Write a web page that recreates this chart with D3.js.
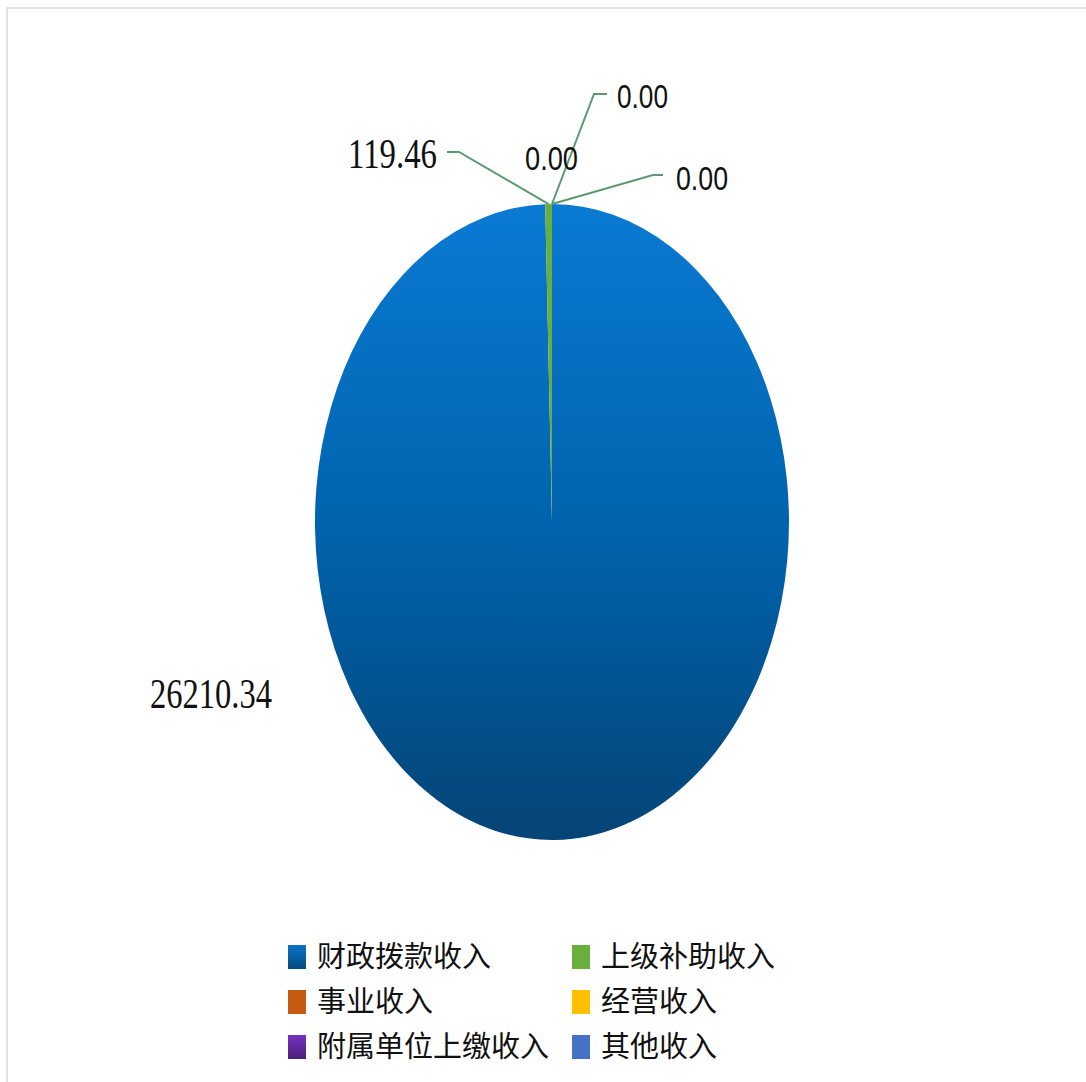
<!DOCTYPE html>
<html><head><meta charset="utf-8">
<script src="https://cdn.jsdelivr.net/npm/d3@7"></script>
<style>html,body{margin:0;padding:0;background:#fff;overflow:hidden}</style>
</head><body>
<svg id="chart" width="1086" height="1082"></svg>
<script>
const categories = ["财政拨款收入","上级补助收入","事业收入","经营收入","附属单位上缴收入","其他收入"];
const values = [26210.34, 119.46, 0, 0, 0, 0];
const labelTexts = ["26210.34","119.46","0.00","0.00","0.00",null];
const colors = ["url(#gBlue)","#6aae3c","#c55a11","#ffc000","url(#gPurple)","#4472c4"];

// layout (styling / placement only)
const W = 1086, H = 1082;
const cx = 552, cy = 522, rx = 237, ry = 318;
// label boxes: [left, top, width, height, fontFamily, leaderElbow?, leaderEnd?]
const labelLayout = [
  {x:150, y:680, w:122, h:28, font:"Liberation Serif", leader:null},
  {x:348, y:140, w:89,  h:28, font:"Liberation Serif", leader:{start:[447,152], elbow:[459,152]}},
  {x:525, y:146, w:53,  h:24, font:"Liberation Sans", leader:null},
  {x:617, y:84,  w:51,  h:24, font:"Liberation Sans", leader:{start:[607,94], elbow:[594,94]}},
  {x:676, y:166, w:52,  h:24, font:"Liberation Sans", leader:{start:[663,175], elbow:[653,175]}}
];

const svg = d3.select("#chart");
const defs = svg.append("defs");
const gb = defs.append("linearGradient").attr("id","gBlue")
  .attr("gradientUnits","userSpaceOnUse").attr("x1",0).attr("y1",-ry).attr("x2",0).attr("y2",ry);
gb.append("stop").attr("offset","0%").attr("stop-color","#0a7ad3");
gb.append("stop").attr("offset","50%").attr("stop-color","#0064ae");
gb.append("stop").attr("offset","100%").attr("stop-color","#054476");
const gbl = defs.append("linearGradient").attr("id","gBlueL").attr("x1",0).attr("y1",0).attr("x2",0).attr("y2",1);
gbl.append("stop").attr("offset","0%").attr("stop-color","#0a73c4");
gbl.append("stop").attr("offset","100%").attr("stop-color","#064a82");
const gp = defs.append("linearGradient").attr("id","gPurple").attr("x1",0).attr("y1",0).attr("x2",0).attr("y2",1);
gp.append("stop").attr("offset","0%").attr("stop-color","#7a2fc0");
gp.append("stop").attr("offset","100%").attr("stop-color","#4a1f78");

// chart area border (partially visible)
svg.append("rect").attr("x",7).attr("y",8).attr("width",W+20).attr("height",H+20)
  .attr("fill","none").attr("stroke","#e2e2e2").attr("stroke-width",2);

const pie = d3.pie().sort(null).value(d => d)(values);
const arc = d3.arc().innerRadius(0).outerRadius(ry);

const g = svg.append("g").attr("transform",`translate(${cx},${cy}) scale(${rx/ry},1)`);
g.selectAll("path").data(pie).enter().append("path")
  .attr("d", arc)
  .attr("fill", (d,i) => colors[i])
  .attr("stroke", "none");

// outer point for each slice's mid angle (in page coords)
function outerPoint(d){
  const a = (d.startAngle + d.endAngle)/2;
  return [cx + rx*Math.sin(a), cy - ry*Math.cos(a)];
}

// leader lines
labelLayout.forEach((L,i) => {
  if (!L.leader) return;
  const p = outerPoint(pie[i]);
  svg.append("path")
    .attr("d", d3.line()([L.leader.start, L.leader.elbow, p]))
    .attr("fill","none").attr("stroke","#5a9a6e").attr("stroke-width",2);
});

// labels
labelLayout.forEach((L,i) => {
  const t = labelTexts[i];
  if (t == null) return;
  const digitRatio = L.font === "Liberation Serif" ? 0.66 : 0.716;
  const fs = L.h / digitRatio;
  svg.append("text")
    .attr("x", L.x).attr("y", L.y + L.h)
    .attr("font-family", L.font).attr("font-size", fs)
    .attr("fill","#111")
    .attr("textLength", L.w).attr("lengthAdjust","spacingAndGlyphs")
    .text(t);
});

// legend
const legendCols = [288, 572];
const legendRows = [957, 1002, 1047];
const legendColors = ["url(#gBlueL)","#6aae3c","#c55a11","#ffc000","url(#gPurple)","#4472c4"];
const lg = svg.append("g");
categories.forEach((c,i) => {
  const col = i % 2, row = Math.floor(i/2);
  const x = legendCols[col], y = legendRows[row];
  lg.append("rect").attr("x",x).attr("y",y-12).attr("width",18).attr("height",24)
    .attr("fill",legendColors[i]);
  lg.append("text").attr("x",x+29).attr("y",y).attr("dy","0.36em")
    .attr("font-family","'Noto Sans CJK SC'").attr("font-size",29)
    .attr("fill","#111").text(c);
});
</script>
</body></html>
